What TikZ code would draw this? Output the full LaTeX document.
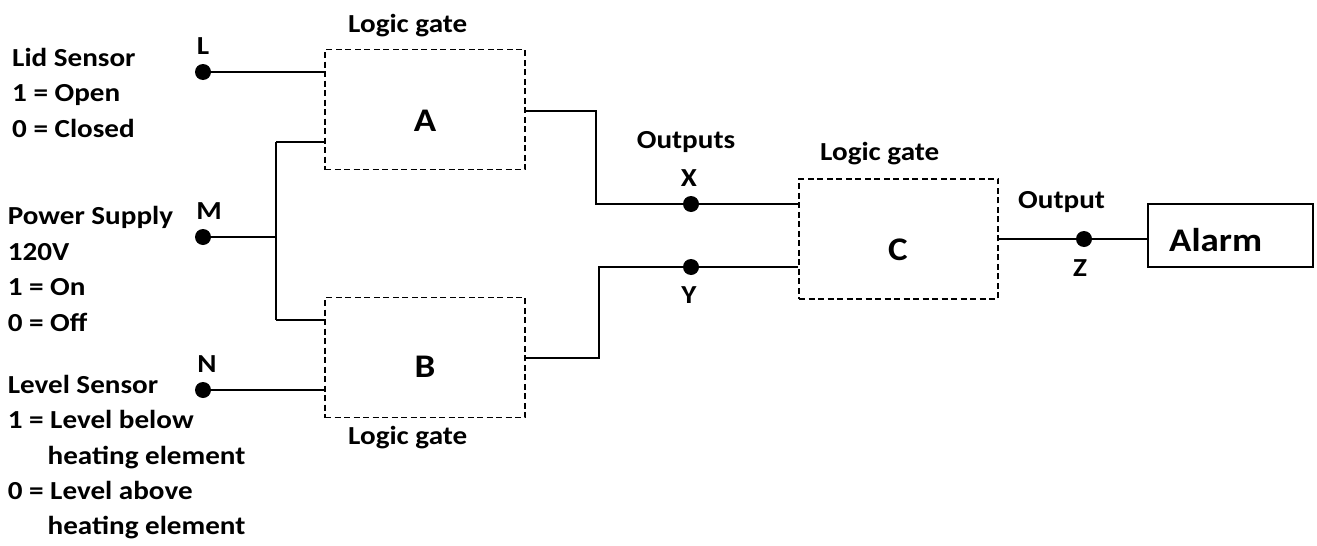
\documentclass[tikz,border=0pt]{standalone}
\usepackage{fontspec}
\setmainfont{Carlito}[FakeStretch=1.12]
\begin{document}
\begin{tikzpicture}[x=1pt,y=-1pt,
  txt/.style={font=\fontsize{26}{31}\selectfont\bfseries, inner sep=0pt},
  big/.style={font=\fontsize{33}{40}\selectfont\bfseries, inner sep=0pt},
  gatebox/.style={draw, line width=1.5pt, dash pattern=on 6pt off 3.5pt, minimum width=200pt, minimum height=120pt, inner sep=0pt},
  alarmbox/.style={draw, line width=1.5pt, minimum width=165pt, minimum height=63pt, inner sep=0pt},
  pin/.style={circle, fill=black, minimum size=16pt, inner sep=0pt},
  wire/.style={line width=2pt},
  thinwire/.style={line width=1.4pt}]
\useasboundingbox (0,0) rectangle (1317,546);

% gate boxes
\node[gatebox] (A) at (425,109.5) {};
\node[gatebox] (B) at (425,357.5) {};
\node[gatebox, minimum width=199pt] (C) at (898.5,238.75) {};
\node[alarmbox] (alarm) at (1230.5,235.5) {};

% gate letters
\node[big, anchor=base] (Alab) at (425,131) {A};
\node[big, anchor=base] (Blab) at (425,377) {B};
\node[big, anchor=base] (Clab) at (898,260) {C};
\node[big, anchor=base west] (alarmlab) at (1169,251) {Alarm};

% gate captions
\node[txt, anchor=base west] (capA) at (348,32) {Logic gate};
\node[txt, anchor=base west] (capB) at (348,444) {Logic gate};
\node[txt, anchor=base west] (capC) at (820,160) {Logic gate};
\node[txt, anchor=base] (outs) at (686,148) {Outputs};
\node[txt, anchor=base west] (outz) at (1018,208) {Output};

% pins
\node[pin] (L) at (203,72) {};
\node[pin] (M) at (203,237) {};
\node[pin] (N) at (203,390) {};
\node[pin] (X) at (691,204) {};
\node[pin] (Y) at (691,267) {};
\node[pin] (Z) at (1084,239) {};

% pin labels
\node[txt, anchor=base] (Llab) at (203,54) {L};
\node[txt, anchor=base] (Mlab) at (209,219) {M};
\node[txt, anchor=base] (Nlab) at (207,372) {N};
\node[txt, anchor=base] (Xlab) at (689,186) {X};
\node[txt, anchor=base] (Ylab) at (689,303) {Y};
\node[txt, anchor=base] (Zlab) at (1080,276) {Z};

% left descriptions
\node[txt, anchor=base west] (d1) at (12,66) {Lid Sensor};
\node[txt, anchor=base west] (d2) at (12,101.5) {1 = Open};
\node[txt, anchor=base west] (d3) at (12,137) {0 = Closed};
\node[txt, anchor=base west] (d4) at (7.6,224.5) {Power Supply};
\node[txt, anchor=base west] (d5) at (7.6,260) {120V};
\node[txt, anchor=base west] (d6) at (7.6,295.5) {1 = On};
\node[txt, anchor=base west] (d7) at (7.6,331) {0 = Off};
\node[txt, anchor=base west] (d8) at (7.6,393) {Level Sensor};
\node[txt, anchor=base west] (d9) at (7.6,428.5) {1 = Level below};
\node[txt, anchor=base west] (d10) at (47.5,464) {heating element};
\node[txt, anchor=base west] (d11) at (7.6,499) {0 = Level above};
\node[txt, anchor=base west] (d12) at (47.5,534) {heating element};

% junction and bends
\coordinate (J) at (276,237);
\coordinate (Ja) at (276,142);
\coordinate (Jb) at (276,320);
\coordinate (ao) at (525,111);
\coordinate (ab) at (596,111);
\coordinate (bo) at (525,358);
\coordinate (bb) at (599,358);

% wires
\draw[wire] (L) -- (L -| A.west);
\draw[wire] (M) -- (J);
\draw[thinwire] (Ja) -- (Jb);
\draw[thinwire] (Ja) -- (Ja -| A.west);
\draw[thinwire] (Jb) -- (Jb -| B.west);
\draw[wire] (N) -- (N -| B.west);
\draw[wire] (ao) -- (ab) -- (ab |- X) -- (X);
\draw[thinwire] (X) -- (X -| C.west);
\draw[wire] (bo) -- (bb) -- (bb |- Y) -- (Y);
\draw[thinwire] (Y) -- (Y -| C.west);
\draw[wire] (Z -| C.east) -- (Z);
\draw[thinwire] (Z) -- (Z -| alarm.west);
\end{tikzpicture}
\end{document}
